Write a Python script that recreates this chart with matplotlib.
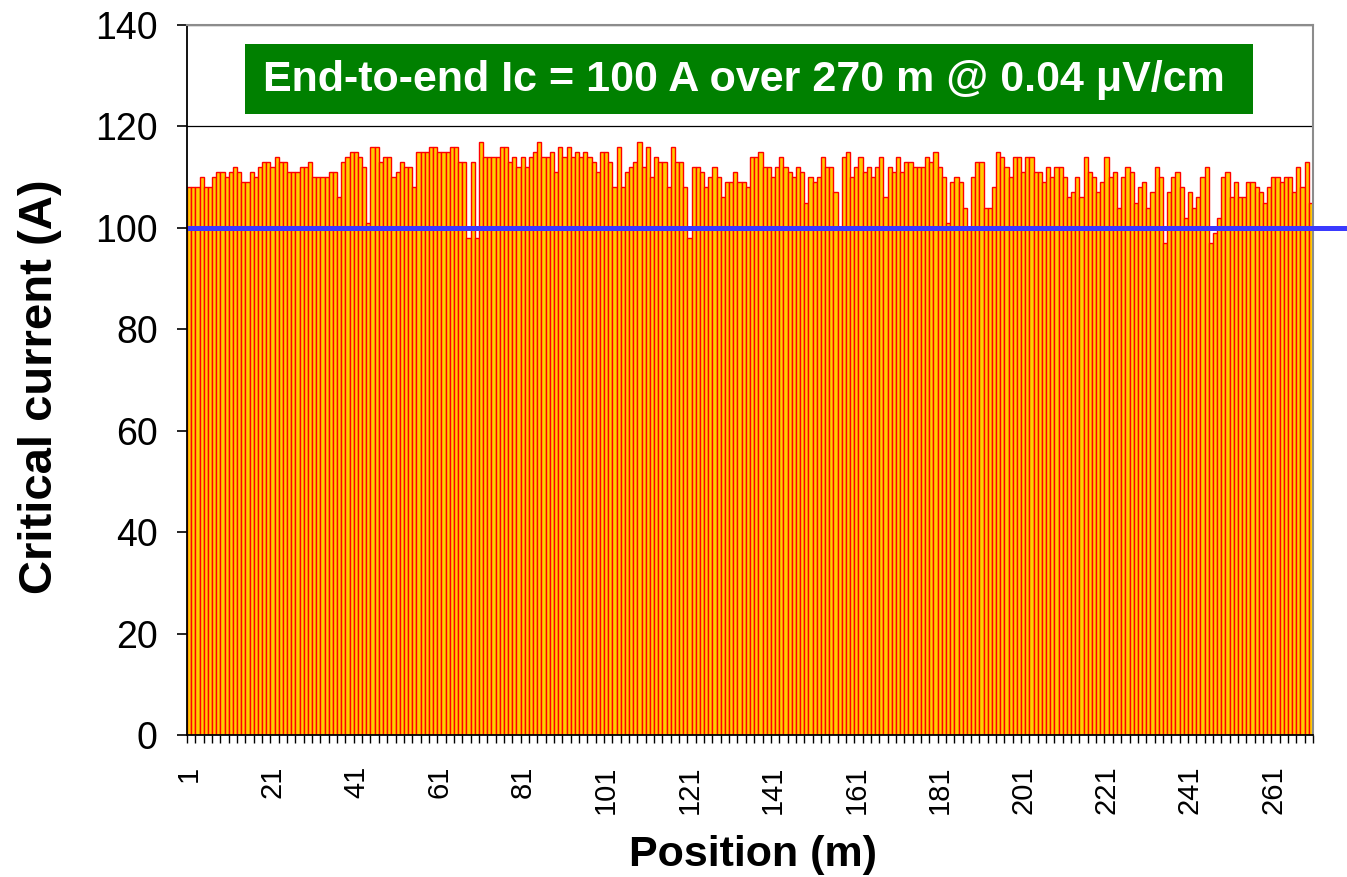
import numpy as np
import matplotlib
matplotlib.use('Agg')
import matplotlib.pyplot as plt
from matplotlib.patches import Rectangle
from matplotlib.ticker import FixedLocator

plt.rcParams['font.family'] = ['Liberation Sans', 'DejaVu Sans']

# critical current per metre of tape (A), positions 1..270
ic_values = [
    108, 108, 108, 110, 108, 108, 110, 111, 111, 110,
    111, 112, 111, 109, 109, 111, 110, 112, 113, 113,
    112, 114, 113, 113, 111, 111, 111, 112, 112, 113,
    110, 110, 110, 110, 111, 111, 106, 113, 114, 115,
    115, 114, 112, 101, 116, 116, 113, 114, 114, 110,
    111, 113, 112, 112, 108, 115, 115, 115, 116, 116,
    115, 115, 115, 116, 116, 113, 113, 98, 113, 98,
    117, 114, 114, 114, 114, 116, 116, 113, 114, 112,
    114, 112, 114, 115, 117, 114, 114, 115, 111, 116,
    114, 116, 114, 115, 114, 115, 114, 113, 111, 115,
    115, 113, 108, 116, 108, 111, 112, 113, 117, 112,
    116, 110, 114, 113, 113, 108, 116, 113, 113, 108,
    98, 112, 112, 111, 108, 110, 112, 110, 106, 109,
    109, 111, 109, 109, 108, 114, 114, 115, 112, 112,
    110, 112, 114, 112, 111, 110, 112, 111, 105, 110,
    109, 110, 114, 112, 112, 107, 100, 114, 115, 110,
    112, 114, 111, 112, 110, 112, 114, 106, 112, 111,
    114, 111, 113, 113, 112, 112, 112, 114, 113, 115,
    112, 110, 101, 109, 110, 109, 104, 100, 110, 113,
    113, 104, 104, 108, 115, 114, 112, 110, 114, 114,
    111, 114, 114, 111, 111, 109, 112, 110, 112, 112,
    110, 106, 107, 110, 106, 114, 111, 110, 107, 109,
    114, 110, 111, 104, 110, 112, 111, 105, 108, 109,
    104, 107, 112, 110, 97, 107, 110, 111, 108, 102,
    107, 104, 106, 110, 112, 97, 99, 102, 110, 111,
    106, 109, 106, 106, 109, 109, 108, 107, 105, 108,
    110, 110, 109, 110, 110, 107, 112, 108, 113, 105,
]
positions = list(range(1, len(ic_values) + 1))
end_to_end_ic = 100
y_ticks = [0, 20, 40, 60, 80, 100, 120, 140]
x_tick_labels = [1, 21, 41, 61, 81, 101, 121, 141, 161, 181, 201, 221, 241, 261]

title_text = 'End-to-end Ic = 100 A over 270 m @ 0.04 \u03bcV/cm'

bar_face = '#FFCC00'
bar_edge = '#FF0000'
line_blue = '#3A3AFF'
box_green = '#008000'
frame_grey = '#8C8C8C'


def make_axes():
    fig = plt.figure(figsize=(13.47, 8.77), dpi=100)
    ax = fig.add_axes([187 / 1347, 1 - 735 / 877, 1126 / 1347, 710 / 877])
    return fig, ax


def draw_bars(ax):
    ax.bar(positions, ic_values, width=1.0, color=bar_face,
           edgecolor=bar_edge, linewidth=1.0, zorder=2)
    ax.axhline(end_to_end_ic, xmin=0.003, xmax=1.035, color=line_blue,
               linewidth=3.6, zorder=4, clip_on=False)


def style_axes(ax):
    ax.set_xlim(0.5, len(ic_values) + 0.5)
    ax.set_ylim(0, 140)

    ax.set_yticks(y_ticks)
    ax.tick_params(axis='y', direction='out', length=7, width=1.2,
                   labelsize=27, pad=14)
    ax.yaxis.grid(True, color='black', linewidth=0.9, zorder=0)
    ax.set_axisbelow(True)

    ax.set_xticks(x_tick_labels)
    ax.set_xticklabels([str(v) for v in x_tick_labels], rotation=90)
    ax.xaxis.set_minor_locator(
        FixedLocator(np.arange(0.5, len(ic_values) + 1, 2)))
    ax.tick_params(axis='x', which='major', length=0, labelsize=21, pad=22)
    ax.tick_params(axis='x', which='minor', direction='out', length=6,
                   width=1.0)

    for side in ('left', 'bottom'):
        ax.spines[side].set_color('black')
        ax.spines[side].set_linewidth(1.3)
    for side in ('top', 'right'):
        ax.spines[side].set_color(frame_grey)
        ax.spines[side].set_linewidth(1.5)

    ax.set_ylabel('Critical current (A)', fontsize=34, fontweight='bold',
                  va='center')
    ax.yaxis.set_label_coords(-147 / 1126, 348 / 710)
    ax.set_xlabel('Position (m)', fontsize=31, fontweight='bold',
                  va='center')
    ax.xaxis.set_label_coords(566 / 1126, -120 / 710)


def add_banner(ax):
    box = Rectangle((58 / 1126, 621 / 710), 1008 / 1126, 70 / 710,
                    transform=ax.transAxes, facecolor=box_green,
                    edgecolor='none', zorder=5)
    ax.add_patch(box)
    ax.text(557 / 1126, 655 / 710, title_text, transform=ax.transAxes,
            ha='center', va='center', color='white', fontsize=31,
            fontweight='bold', zorder=6)


fig, ax = make_axes()
draw_bars(ax)
style_axes(ax)
add_banner(ax)
fig.savefig('out.png', dpi=100)
